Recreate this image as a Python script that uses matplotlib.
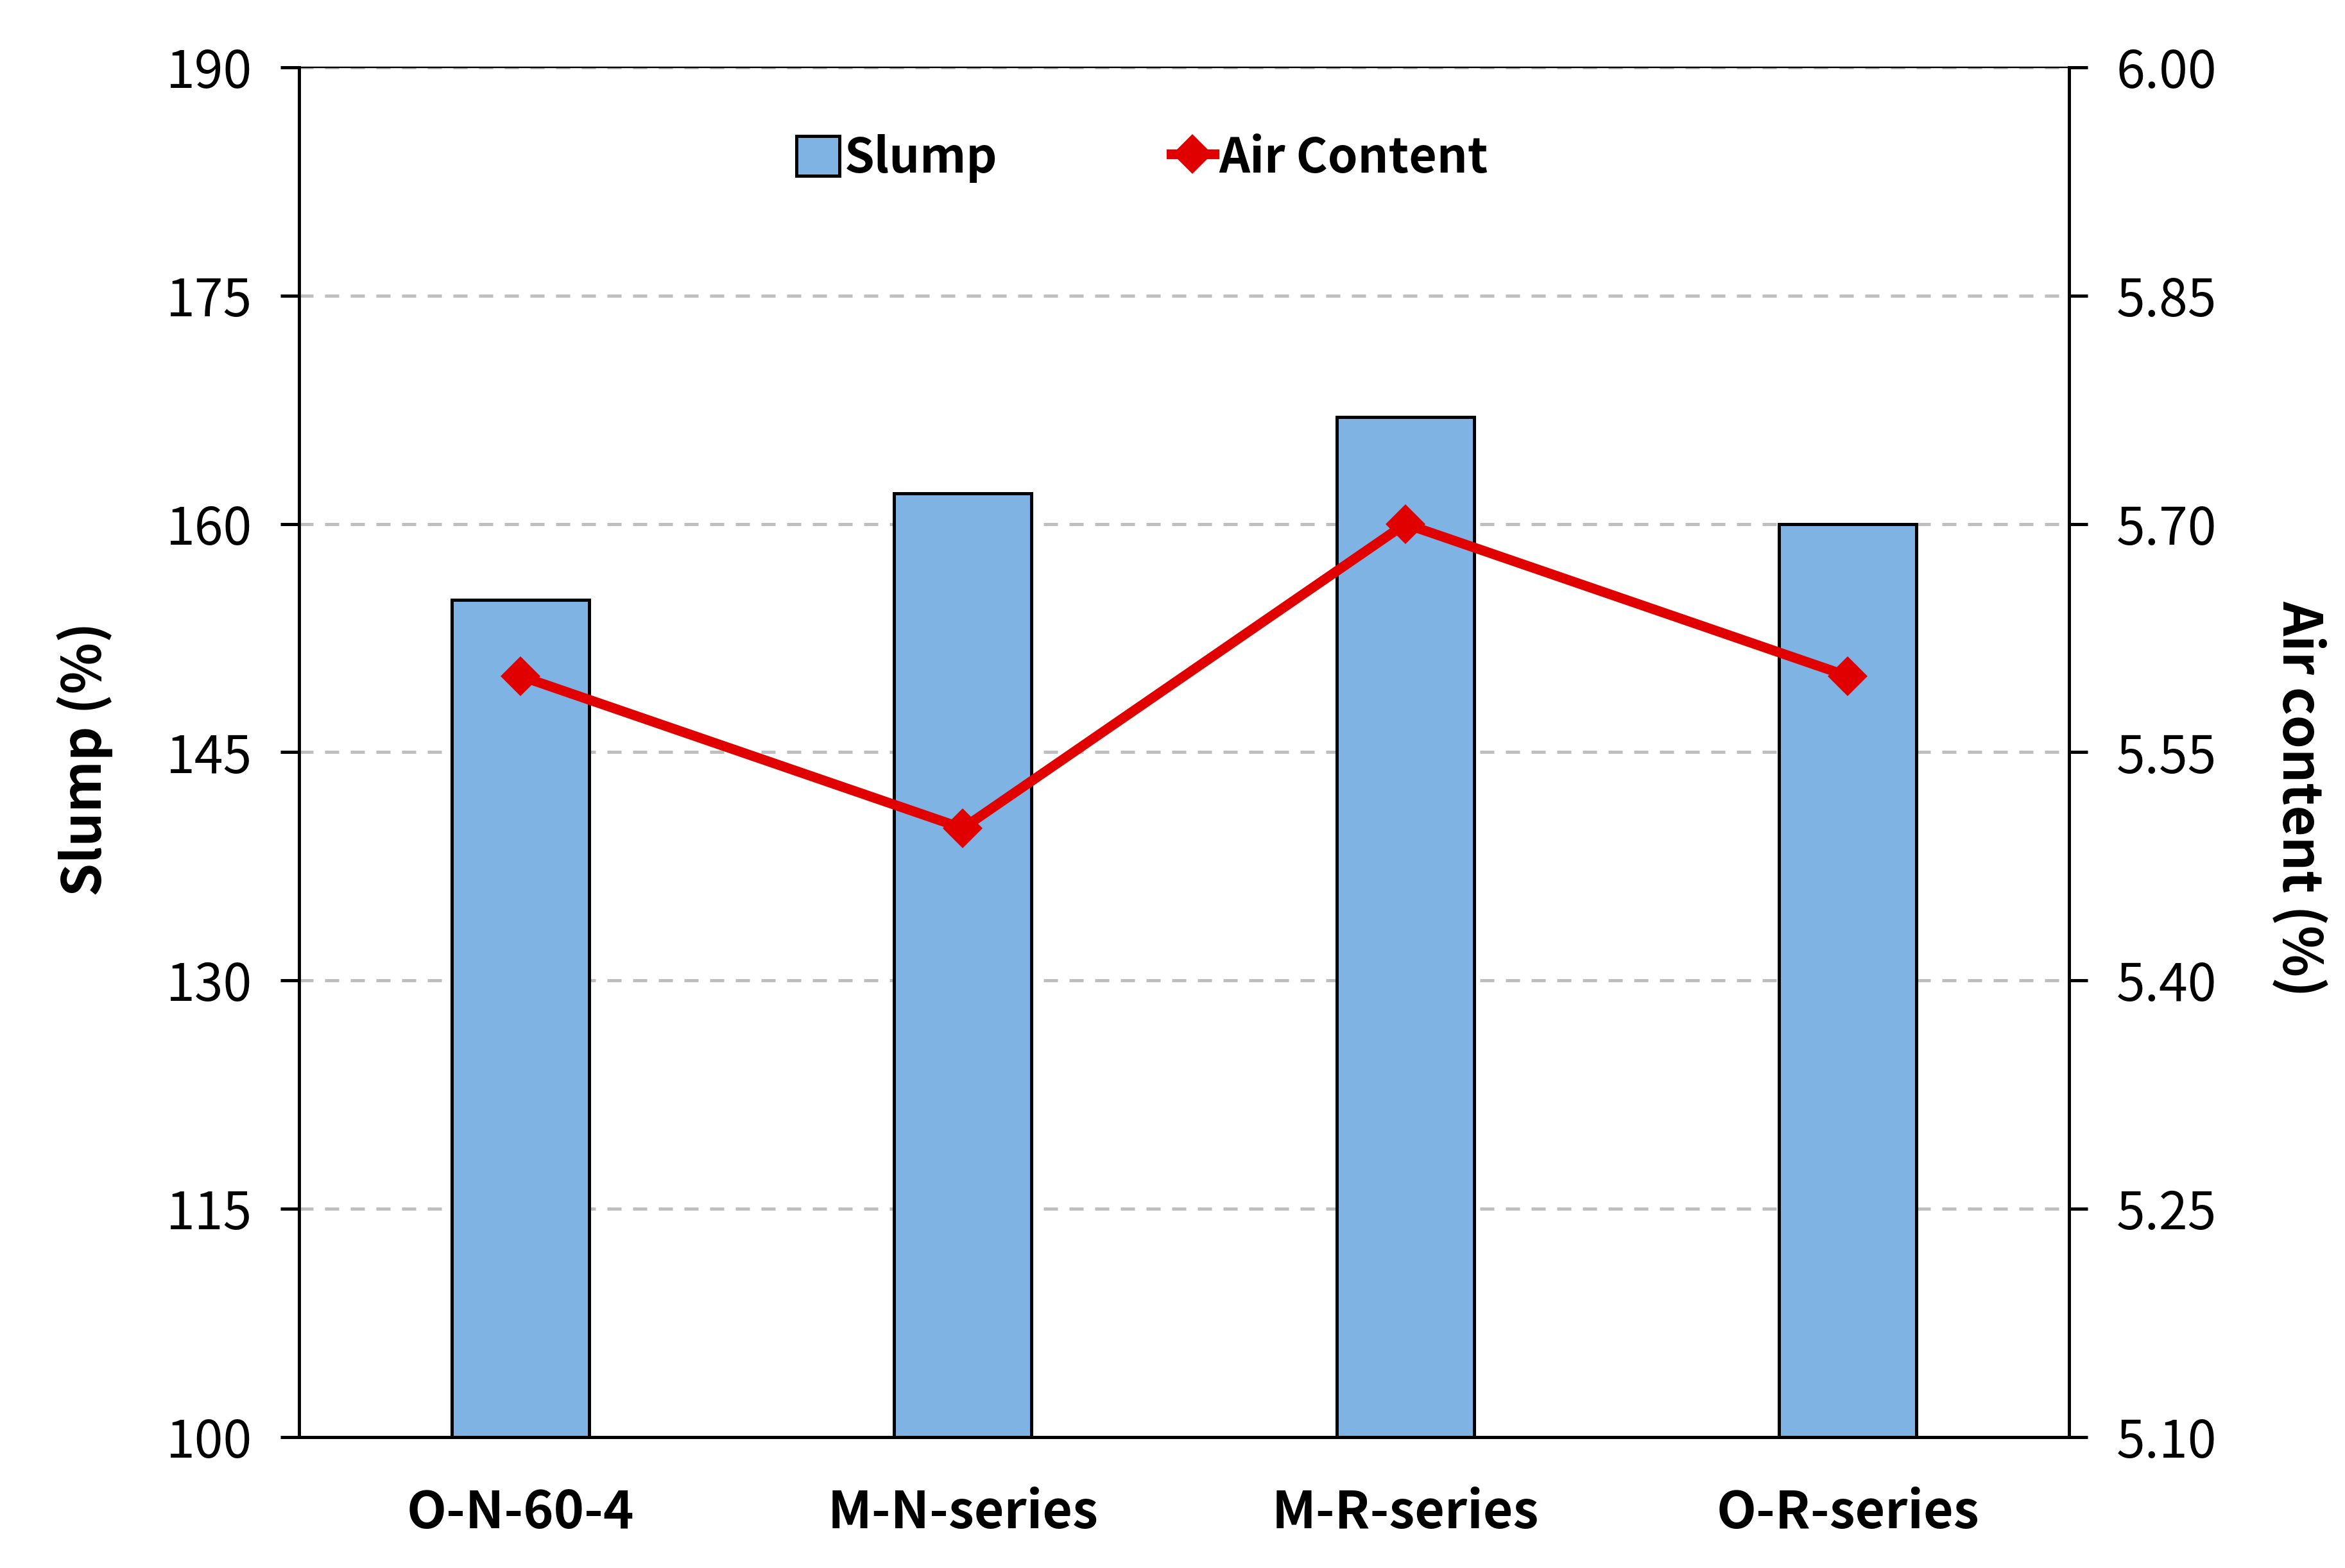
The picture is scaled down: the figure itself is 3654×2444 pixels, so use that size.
import matplotlib
matplotlib.use('Agg')
import matplotlib.pyplot as plt
from matplotlib.patches import Patch
from matplotlib.lines import Line2D

plt.rcParams['font.family'] = ['Noto Sans CJK KR', 'DejaVu Sans']

# 数据
categories = ['O-N-60-4', 'M-N-series', 'M-R-series', 'O-R-series']
slump = [155, 162, 167, 160]
air_content = [5.60, 5.50, 5.70, 5.60]
slump_ticks = [100, 115, 130, 145, 160, 175, 190]
air_ticks = [5.10, 5.25, 5.40, 5.55, 5.70, 5.85, 6.00]

bar_color = '#7EB3E4'
line_color = '#E00000'

fig = plt.figure(figsize=(18.275, 12.22), dpi=200)
ax = fig.add_axes([0.1275, 0.0835, 0.7546, 0.8736])
ax2 = ax.twinx()

x = list(range(len(categories)))

# 网格线
ax.set_axisbelow(True)
ax.yaxis.grid(True, color='#BFBFBF', linewidth=1.8, linestyle=(0, (4.4, 3.6)))

ax.bar(x, slump, width=0.31, color=bar_color, edgecolor='black', linewidth=1.8, zorder=2)
ax2.plot(x, air_content, color=line_color, linewidth=5.5, marker='D', markersize=16,
         markeredgewidth=0, zorder=3)

ax.set_xlim(-0.5, len(categories) - 0.5)
ax.set_ylim(100, 190)
ax2.set_ylim(5.10, 6.00)
ax.set_yticks(slump_ticks)
ax2.set_yticks(air_ticks)
ax2.set_yticklabels([f'{v:.2f}' for v in air_ticks])
ax.set_xticks(x)
ax.set_xticklabels(categories, fontsize=29, fontweight='bold')

for a in (ax, ax2):
    for side in ('left', 'right', 'bottom'):
        a.spines[side].set_linewidth(1.8)
        a.spines[side].set_color('black')
    a.spines['top'].set_linewidth(0.8)
    a.spines['top'].set_color('black')

ax.tick_params(axis='y', direction='out', length=10.4, width=1.8, pad=16, labelsize=29)
ax2.tick_params(axis='y', direction='out', length=10.4, width=1.8, pad=16, labelsize=29)
ax.tick_params(axis='x', length=0, pad=28)

ax.set_ylabel('Slump (%)', fontsize=30, fontweight='bold', va='center', ha='center')
ax.yaxis.set_label_coords(-0.121, 0.495)
ax2.set_ylabel('Air content (%)', fontsize=30, fontweight='bold', rotation=270,
               va='center', ha='center')
ax2.yaxis.set_label_coords(1.130, 0.466)

# 图例
handles = [
    Patch(facecolor=bar_color, edgecolor='black', linewidth=1.8),
    Line2D([0], [0], color=line_color, linewidth=5.5, marker='D', markersize=16,
           markeredgewidth=0),
]
fig.legend(handles, ['Slump', 'Air Content'], loc='center', bbox_to_anchor=(0.487, 0.899),
           ncol=2, frameon=False, prop={'size': 27, 'weight': 'bold'},
           handlelength=0.9, handleheight=0.9, handletextpad=0.1, columnspacing=3.6)

fig.savefig('out.png', dpi=200)
